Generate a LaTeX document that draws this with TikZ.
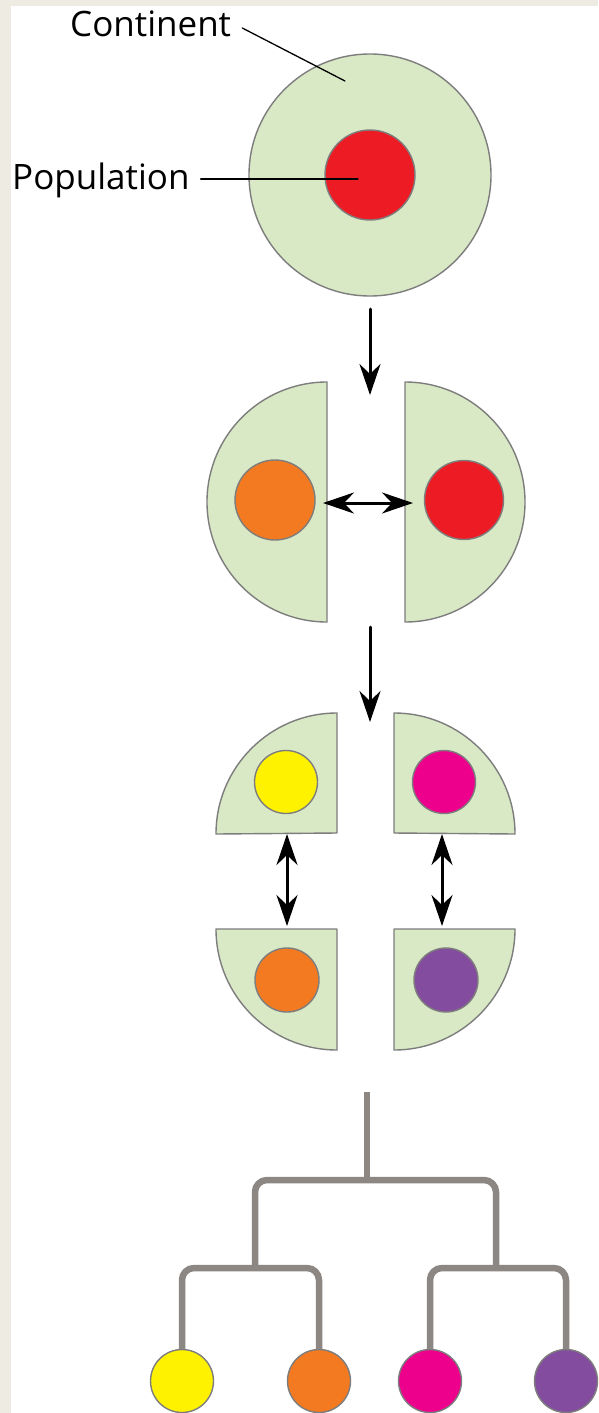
\documentclass[tikz,border=0pt]{standalone}
\usepackage{fontspec}
\setmainfont{Open Sans}
\usetikzlibrary{arrows.meta}
\definecolor{paper}{HTML}{EEEBE3}
\definecolor{landgreen}{HTML}{D9E8C5}
\definecolor{rimgrey}{HTML}{7D7D7D}
\definecolor{treegrey}{HTML}{8C8782}
\definecolor{popred}{HTML}{ED1C24}
\definecolor{poporange}{HTML}{F37A20}
\definecolor{popyellow}{HTML}{FFF200}
\definecolor{popmagenta}{HTML}{EC008C}
\definecolor{poppurple}{HTML}{844C9E}

\begin{document}
\begin{tikzpicture}[x=1pt, y=-1pt, line cap=round, line join=round, >={Stealth[length=31pt,width=21pt,inset=10pt]}]
\tikzset{land/.style={fill=landgreen, draw=rimgrey, line width=1.4pt},
  pop/.style={circle, draw=rimgrey, line width=1.4pt, inner sep=0pt},
  flow/.style={->, line width=3pt},
  swap/.style={<->, line width=3pt},
  branch/.style={draw=treegrey, line width=6.5pt, line cap=butt, rounded corners=12pt},
  callout/.style={line width=1.3pt},
  tag/.style={font=\fontsize{35}{42}\selectfont, inner sep=0pt}}

% page (px)
\useasboundingbox (0,0) rectangle (598,1413);
\fill[paper] (0,0) rectangle (598,1413);
\fill[white] (11,6) rectangle (598,1413);

% land: whole, halves, quarters
\node[land, circle, minimum size=242pt] (C) at (370,175) {};
\draw[land] (327,382) arc[start angle=90, end angle=270, radius=120pt] -- cycle;
\draw[land] (405,382) arc[start angle=90, end angle=-90, radius=120pt] -- cycle;
\draw[land] (337,833) -- (337,713) arc[start angle=90, end angle=180, radius=121pt] -- cycle;
\draw[land] (394,833) -- (394,713) arc[start angle=90, end angle=0, radius=121pt] -- cycle;
\draw[land] (337,929) -- (216,929) arc[start angle=180, end angle=270, radius=121pt] -- cycle;
\draw[land] (394,929) -- (515,929) arc[start angle=0, end angle=-90, radius=121pt] -- cycle;

% populations
\node[pop, fill=popred, minimum size=90pt] (P0) at (370,175) {};
\node[pop, fill=poporange, minimum size=80pt] (P1) at (275,500) {};
\node[pop, fill=popred, minimum size=79pt] (P2) at (464,500) {};
\node[pop, fill=popyellow, minimum size=63pt] (P3) at (286,782) {};
\node[pop, fill=popmagenta, minimum size=63pt] (P4) at (444,782) {};
\node[pop, fill=poporange, minimum size=64pt] (P5) at (287,980) {};
\node[pop, fill=poppurple, minimum size=64pt] (P6) at (446,980) {};

% labels
\node[tag, anchor=base west] (TC) at (70,37) {Continent};
\node[tag, anchor=base west] (TP) at (12,189) {Population};
\coordinate (TCend) at (345,81);
\coordinate (TPend) at (358,179);
\draw[callout] ([shift={(11pt,9pt)}]TC.base east) -- (TCend);
\draw[callout] ([shift={(11pt,10pt)}]TP.base east) -- (TPend);

% arrows
\coordinate (A1) at (370,309);
\coordinate (A2) at (370,395);
\coordinate (A3) at (370,627);
\coordinate (A4) at (370,722);
\coordinate (B1) at (323,503);
\coordinate (B2) at (413,503);
\coordinate (B3) at (287,834);
\coordinate (B4) at (287,926);
\coordinate (B5) at (442,834);
\coordinate (B6) at (442,926);
\draw[flow] (A1) -- (A2);
\draw[flow] (A3) -- (A4);
\draw[swap] (B1) -- (B2);
\draw[swap] (B3) -- (B4);
\draw[swap] (B5) -- (B6);

% tree
\foreach \x/\c [count=\i] in {182/popyellow, 319/poporange, 430/popmagenta, 566/poppurple}
  \node[pop, fill=\c, minimum size=63pt] (L\i) at (\x,1381) {};
\coordinate (R)  at (367,1092);
\coordinate (J0) at (367,1180);
\coordinate (JL) at (255,1268);
\coordinate (JR) at (496,1268);
\draw[branch] (R) -- (J0);
\draw[branch] (JL) |- (J0) -| (JR);
\draw[branch] (L1.north) |- (JL) -| (L2.north);
\draw[branch] (L3.north) |- (JR) -| (L4.north);
\end{tikzpicture}
\end{document}
